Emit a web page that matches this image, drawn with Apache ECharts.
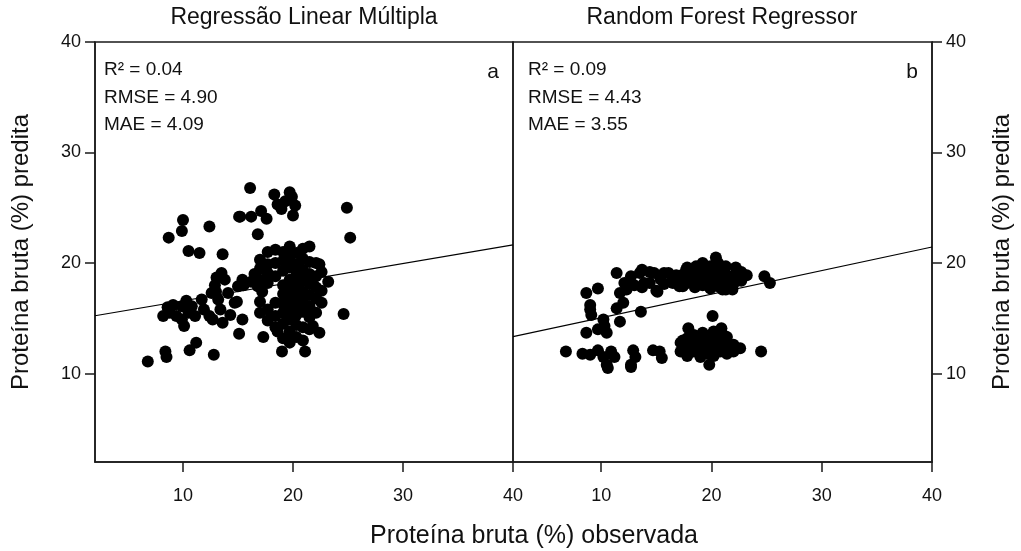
<!DOCTYPE html>
<html>
<head>
<meta charset="utf-8">
<script src="https://cdn.jsdelivr.net/npm/echarts@6/dist/echarts.min.js"></script>
<style>
  html, body { margin: 0; padding: 0; background: #fff; }
  #chart { width: 1021px; height: 551px; }
</style>
</head>
<body>
<div id="chart"></div>
<script>
const tickValues = [10, 20, 30, 40]
const panelTitles = ['Regressão Linear Múltipla', 'Random Forest Regressor']
const panelLetters = ['a', 'b']
const statsA = ['R² = 0.04', 'RMSE = 4.90', 'MAE = 4.09']
const statsB = ['R² = 0.09', 'RMSE = 4.43', 'MAE = 3.55']
const fitA = [[2, 15.23], [40, 21.65]]
const fitB = [[2, 13.35], [40, 21.45]]

// observada, predita (regressão linear)
const pointsA = [
  [10.0, 23.9], [9.9, 22.9], [8.7, 22.3], [12.4, 23.3], [15.1, 24.2], [10.5, 21.1], [11.5, 20.9], [13.6, 20.8],
  [16.1, 26.8], [18.3, 26.2], [19.7, 26.4], [20.2, 25.2], [18.6, 25.3], [19.3, 25.6], [20.0, 24.3], [18.95, 24.9], [19.9, 26.0],
  [15.2, 24.2], [16.2, 24.2], [17.1, 24.7], [17.6, 24.0], [16.8, 22.6], [24.9, 25.0], [25.2, 22.3],
  [6.8, 11.1], [8.5, 11.5], [8.4, 12.0], [10.6, 12.1], [11.2, 12.8], [12.8, 11.7], [10.1, 14.3], [15.1, 13.6], [15.4, 14.9],
  [8.2, 15.2], [9.1, 16.2], [9.9, 16.1], [10.5, 15.5], [9.4, 15.2], [8.8, 15.5], [9.9, 14.9], [10.8, 16.1], [8.6, 16.0], [10.3, 16.6], [11.1, 15.2],
  [11.7, 16.7], [11.9, 15.8], [12.6, 17.3], [12.9, 18.0], [13.5, 19.1], [13.8, 18.5], [13.2, 16.7], [12.7, 14.9], [13.4, 15.8],
  [14.1, 17.3], [14.7, 16.4], [15.0, 17.9], [15.4, 18.5], [13.0, 17.4], [13.6, 14.6], [12.4, 15.2], [14.3, 15.3], [13.05, 18.7],
  [15.5, 18.0], [16.2, 18.3], [16.8, 17.9], [14.9, 16.5], [16.5, 19.0], [17.2, 17.4],
  [17.0, 15.5], [17.0, 16.5], [17.0, 18.5], [17.0, 19.5], [17.0, 20.3],
  [17.7, 14.8], [17.7, 15.8], [17.7, 18.2], [17.7, 19.1], [17.7, 19.9], [17.7, 21.0],
  [18.4, 14.2], [18.4, 15.2], [18.4, 16.4], [18.4, 18.8], [18.4, 20.0], [18.4, 21.2],
  [19.1, 13.2], [19.1, 14.5], [19.1, 15.5], [19.1, 16.3], [19.1, 17.2], [19.1, 18.0], [19.1, 19.3], [19.1, 20.2], [19.1, 21.0],
  [19.7, 12.8], [19.7, 13.8], [19.7, 14.9], [19.7, 15.8], [19.7, 16.7], [19.7, 17.6], [19.7, 18.5], [19.7, 19.6], [19.7, 20.6], [19.7, 21.5],
  [20.3, 13.3], [20.3, 14.4], [20.3, 15.3], [20.3, 16.2], [20.3, 17.0], [20.3, 17.9], [20.3, 18.9], [20.3, 19.9], [20.3, 20.9],
  [20.9, 13.0], [20.9, 14.2], [20.9, 15.6], [20.9, 16.6], [20.9, 17.4], [20.9, 18.4], [20.9, 19.4], [20.9, 20.4], [20.9, 21.3],
  [21.5, 14.0], [21.5, 15.1], [21.5, 16.1], [21.5, 17.1], [21.5, 18.1], [21.5, 19.0], [21.5, 20.1], [21.5, 21.5],
  [22.1, 15.5], [22.1, 16.8], [22.1, 17.8], [22.1, 18.8], [22.1, 20.0], [22.6, 16.4], [22.6, 17.5], [22.6, 19.2],
  [22.4, 19.9], [23.2, 18.3], [24.6, 15.4], [17.3, 13.3], [18.6, 13.8], [19.0, 12.0], [21.1, 12.0], [21.8, 14.3], [22.4, 13.7]
]

// observada, predita (random forest)
const pointsB = [
  [6.8, 12.0], [8.3, 11.8], [9.0, 11.7], [9.7, 12.1], [10.2, 11.5], [10.9, 12.0], [10.5, 10.8], [11.2, 11.5], [10.6, 10.5],
  [12.9, 12.1], [12.7, 10.8], [13.1, 11.5], [12.7, 10.6], [14.7, 12.1], [15.3, 12.0], [15.5, 11.4],
  [8.65, 17.3], [9.7, 17.7], [9.0, 16.2], [9.1, 15.3], [9.0, 15.8], [10.2, 14.9], [10.3, 14.3], [9.7, 14.0], [8.65, 13.7], [10.5, 13.7], [11.7, 14.7],
  [11.4, 15.9], [12.0, 16.4], [11.7, 17.3], [12.1, 18.2], [11.4, 19.1], [13.6, 15.6], [15.1, 17.4],
  [12.7, 18.8], [13.5, 19.1], [13.9, 18.2], [14.8, 19.1], [15.4, 18.5], [16.1, 19.1], [16.7, 18.5], [17.3, 18.9],
  [12.3, 17.6], [13.0, 18.0], [13.7, 17.8], [13.7, 19.4], [14.4, 18.2], [14.4, 19.2], [15.0, 17.5], [15.7, 18.1], [15.7, 19.1],
  [16.4, 18.3], [17.1, 17.9], [17.8, 18.2], [17.8, 19.0], [17.8, 19.6], [18.5, 17.8], [18.5, 18.5], [18.5, 19.3], [18.6, 19.7],
  [19.2, 18.0], [19.2, 18.7], [19.2, 19.4], [19.2, 20.0], [19.9, 17.7], [19.9, 18.4], [19.9, 19.1], [19.9, 19.7], [20.4, 20.5],
  [20.6, 17.9], [20.6, 18.6], [20.6, 19.3], [20.6, 20.0], [21.3, 17.6], [21.3, 18.3], [21.3, 19.0], [21.3, 19.7],
  [22.0, 18.1], [22.0, 18.8], [22.2, 19.6], [22.7, 18.4], [22.7, 19.2], [23.2, 18.9], [24.8, 18.8], [25.3, 18.2],
  [16.8, 18.9], [17.7, 19.4], [21.0, 17.6], [21.9, 17.6], [16.5, 18.2], [17.4, 17.9],
  [20.1, 15.2], [17.9, 14.1], [20.9, 14.1], [19.2, 13.7], [21.2, 13.4], [17.4, 13.0],
  [17.2, 12.0], [17.2, 12.8], [17.8, 11.6], [17.8, 12.4], [17.8, 13.2], [18.4, 12.0], [18.4, 12.8], [18.4, 13.5],
  [19.0, 11.5], [19.0, 12.3], [19.0, 13.1], [19.6, 11.8], [19.6, 12.6], [19.6, 13.4], [20.2, 11.6], [20.2, 12.2], [20.2, 13.0], [20.2, 13.8],
  [20.8, 12.0], [20.8, 12.7], [20.8, 13.5], [21.4, 11.8], [21.4, 12.5], [21.4, 13.3], [22.0, 12.0], [22.0, 12.6], [22.6, 12.3],
  [19.8, 10.8], [24.5, 12.0]
]

const chart = echarts.init(document.getElementById('chart'))

const font = '"Liberation Sans", Arial, sans-serif'
const lineColor = '#1a1a1a'

function makeXAxis (gridIndex) {
  return {
    type: 'value',
    gridIndex: gridIndex,
    min: 2,
    max: 40,
    axisLine: { show: true, lineStyle: { color: lineColor, width: 1.5 } },
    axisTick: { show: true, inside: false, length: 10, customValues: tickValues, lineStyle: { color: lineColor, width: 1.5 } },
    axisLabel: { customValues: tickValues, fontSize: 18, fontFamily: font, color: '#111', margin: 25 },
    splitLine: { show: false }
  }
}

function makeYAxis (gridIndex, position, nameGap) {
  return {
    type: 'value',
    gridIndex: gridIndex,
    position: position,
    min: 2,
    max: 40,
    name: 'Proteína bruta (%) predita',
    nameLocation: 'middle',
    nameRotate: 90,
    nameGap: nameGap,
    nameTextStyle: { fontSize: 24, fontFamily: font, color: '#111' },
    axisLine: { show: true, lineStyle: { color: lineColor, width: 1.5 } },
    axisTick: { show: true, inside: false, length: 10, customValues: tickValues, lineStyle: { color: lineColor, width: 1.5 } },
    axisLabel: { customValues: tickValues, fontSize: 18, fontFamily: font, color: '#111', margin: 14 },
    splitLine: { show: false }
  }
}

function statsText (lines, x) {
  return lines.map((t, i) => ({
    type: 'text',
    x: x,
    y: 70 + i * 27.5,
    style: { text: t, font: '19px ' + font, fill: '#111', align: 'left', verticalAlign: 'middle' }
  }))
}

const option = {
  animation: false,
  backgroundColor: '#fff',
  grid: [
    { left: 95, top: 42, width: 418, height: 420, show: true, borderColor: lineColor, borderWidth: 1.5 },
    { left: 513, top: 42, width: 419, height: 420, show: true, borderColor: lineColor, borderWidth: 1.5 }
  ],
  xAxis: [makeXAxis(0), makeXAxis(1)],
  yAxis: [makeYAxis(0, 'left', 62), makeYAxis(1, 'right', 58)],
  graphic: [
    { type: 'text', x: 304, y: 18, style: { text: panelTitles[0], font: '23px ' + font, fill: '#111', align: 'center', verticalAlign: 'middle' } },
    { type: 'text', x: 722, y: 18, style: { text: panelTitles[1], font: '23px ' + font, fill: '#111', align: 'center', verticalAlign: 'middle' } },
    { type: 'text', x: 493, y: 72, style: { text: panelLetters[0], font: '21px ' + font, fill: '#111', align: 'center', verticalAlign: 'middle' } },
    { type: 'text', x: 912, y: 72, style: { text: panelLetters[1], font: '21px ' + font, fill: '#111', align: 'center', verticalAlign: 'middle' } },
    { type: 'text', x: 534, y: 536, style: { text: 'Proteína bruta (%) observada', font: '25px ' + font, fill: '#111', align: 'center', verticalAlign: 'middle' } },
    ...statsText(statsA, 104),
    ...statsText(statsB, 528)
  ],
  series: [
    {
      type: 'line',
      xAxisIndex: 0,
      yAxisIndex: 0,
      data: fitA,
      symbol: 'none',
      lineStyle: { color: '#000', width: 1.2 },
      z: 1
    },
    {
      type: 'scatter',
      xAxisIndex: 0,
      yAxisIndex: 0,
      data: pointsA,
      symbolSize: 12,
      itemStyle: { color: '#000', opacity: 1 },
      z: 2
    },
    {
      type: 'line',
      xAxisIndex: 1,
      yAxisIndex: 1,
      data: fitB,
      symbol: 'none',
      lineStyle: { color: '#000', width: 1.2 },
      z: 1
    },
    {
      type: 'scatter',
      xAxisIndex: 1,
      yAxisIndex: 1,
      data: pointsB,
      symbolSize: 12,
      itemStyle: { color: '#000', opacity: 1 },
      z: 2
    }
  ]
}

chart.setOption(option)
</script>
</body>
</html>
